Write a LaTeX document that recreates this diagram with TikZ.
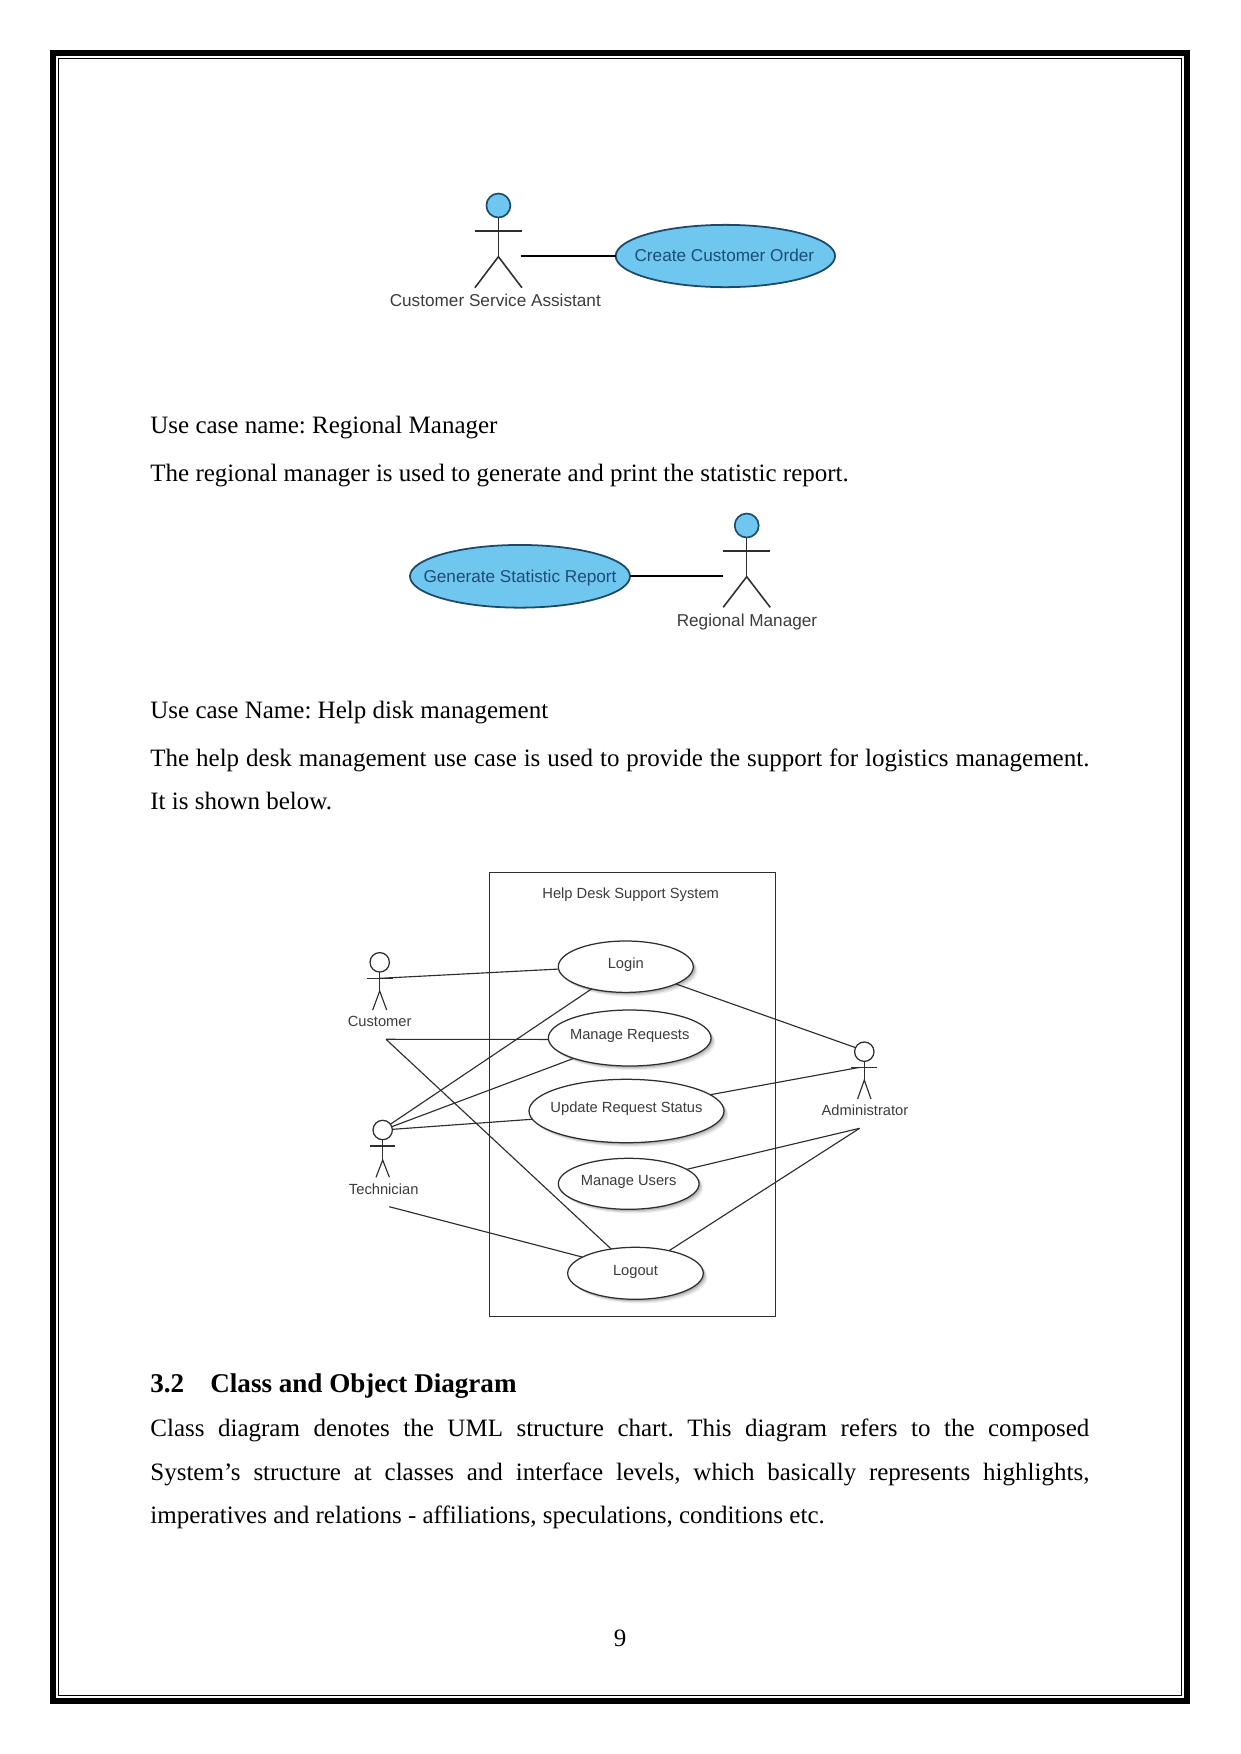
\documentclass[tikz,border=0pt]{standalone}
\usepackage{fontspec}
\setmainfont{Liberation Serif}
\newfontfamily\diagramfont{Liberation Sans}
\usetikzlibrary{shapes.geometric}
\definecolor{ucblue}{HTML}{6FC7EF}
\definecolor{ucnavy}{HTML}{1D4A68}
\definecolor{uctext}{HTML}{1C4C78}
\definecolor{labelgrey}{HTML}{3C3C3C}
\definecolor{linegrey}{HTML}{2E2E2E}

% Page coordinates are pixels at 150 dpi, y growing downward.
\newcommand\hsz[1]{\fontsize{#1}{#1}\selectfont}
\newcommand\zerowidth[1]{\makebox[0pt][c]{#1}}
\newcommand\justline[1]{\makebox[450.72pt][s]{#1}}

% name, x, head y, head radius, arm y, arm half-span, hip y, leg half-span, foot y
\newcommand\umlactor[9]{%
  \node[actorhead,minimum size=2*#4*.48pt] (#1) at (#2,#3) {};
  \draw[actorline] (#1.south) -- (#2,#7);
  \draw[actorline] ({#2-#6},#5) -- ({#2+#6},#5);
  \draw[actorline] ({#2-#8},#9) -- (#2,#7) -- ({#2+#8},#9);
}

\tikzset{
  bodytext/.style={anchor=base west,inner sep=0pt,outer sep=0pt,font=\hsz{12pt}},
  pagenum/.style={anchor=base,inner sep=0pt,font=\hsz{12pt}},
  headingtext/.style={anchor=base west,inner sep=0pt,outer sep=0pt,font=\hsz{13pt}\bfseries},
  bluecase/.style 2 args={ellipse,draw=ucnavy,fill=ucblue,line width=.85pt,inner sep=0pt,outer sep=0pt,
    minimum width=#1*.48pt,minimum height=#2*.48pt,text=uctext,
    font=\diagramfont\hsz{8.25pt},text height=6.7pt,text depth=1.2pt},
  bluelabel/.style={anchor=base,inner sep=0pt,text=labelgrey,font=\diagramfont\hsz{8.25pt}},
  blueline/.style={draw=black,line width=.8pt},
  softshadow/.style={
    preaction={draw=none,fill=black,opacity=.07,transform canvas={shift={(2.0pt,-2.0pt)}}},
    preaction={draw=none,fill=black,opacity=.10,transform canvas={shift={(1.4pt,-1.4pt)}}},
    preaction={draw=none,fill=black,opacity=.14,transform canvas={shift={(.8pt,-.8pt)}}}},
  whitecase/.style 2 args={ellipse,draw=linegrey,fill=white,line width=.6pt,inner sep=0pt,outer sep=0pt,
    minimum width=#1*.48pt,minimum height=#2*.48pt,softshadow,text=labelgrey,
    font=\diagramfont\hsz{7.06pt},text height=5.3pt,text depth=3.4pt},
  whitelabel/.style={anchor=base,inner sep=0pt,text=labelgrey,font=\diagramfont\hsz{7.06pt}},
  whiteline/.style={draw=linegrey,line width=.55pt},
  systembox/.style={draw=linegrey,line width=.65pt,inner sep=0pt,outer sep=0pt,
    minimum width=286.4*.48pt,minimum height=444.4*.48pt},
  blueactor/.style={
    actorhead/.style={circle,draw=ucnavy,fill=ucblue,line width=.8pt,inner sep=0pt,outer sep=0pt},
    actorline/.style={draw=linegrey,line width=.75pt}},
  whiteactor/.style={
    actorhead/.style={circle,draw=linegrey,fill=white,line width=.6pt,inner sep=0pt,outer sep=0pt},
    actorline/.style={draw=linegrey,line width=.55pt}},
  outerframe/.style={draw=black,line width=2.88pt},
  innerframe/.style={draw=black,line width=.55pt}
}

\begin{document}
\frenchspacing
\begin{tikzpicture}[x=.48pt,y=-.48pt]
\useasboundingbox (0,0) rectangle (1241,1754);

% Page frame
\draw[outerframe] (53,53) rectangle (1187,1700.7);
\draw[innerframe] (58.5,58.5) rectangle (1181.5,1695.5);

% Create Customer Order
\begin{scope}[blueactor]
  \umlactor{assistant}{498.4}{205.5}{12}{231}{23.5}{256.7}{23.5}{287.7}
  \node[bluelabel] (assistantlabel) at (495.3,306) {Customer Service Assistant};
  \node[bluecase={219.4}{62.3}] (createorder) at (725.4,256) {\hspace{-1pt}\zerowidth{Create Customer Order}};
  \coordinate (assistanthand) at (520.7,256);
  \draw[blueline] (assistanthand) -- (createorder.west);
\end{scope}

% Regional manager section
\node[bodytext] (regionhead) at (150.4,433.3) {Use case name: Regional Manager};
\node[bodytext] (regionbody) at (150.4,481) {The regional manager is used to generate and print the statistic report.};

\begin{scope}[blueactor]
  \umlactor{manager}{746.7}{525.5}{12}{551}{23.5}{576.7}{23.5}{607.3}
  \node[bluelabel] (managerlabel) at (747,626) {Regional Manager};
  \node[bluecase={220}{62.7}] (genreport) at (520,576.3) {\zerowidth{Generate Statistic Report}};
  \coordinate (managerhand) at (722.7,576.3);
  \draw[blueline] (genreport.east) -- (managerhand);
\end{scope}

% Help desk section
\node[bodytext] (helphead) at (150.4,718.3) {Use case Name: Help disk management};
\node[bodytext] (helpbody) at (150.4,766) {\justline{The help desk management use case is used to provide the support for logistics management.}};
\node[bodytext] (helpbodytwo) at (150.4,809) {It is shown below.};

% Help desk use case diagram
\node[systembox] (system) at (632.5,1094.5) {};
\node[whitelabel] (systemtitle) at (630.7,898) {Help Desk Support System};

\node[whitecase={135}{51.4}] (login) at (625.8,966.7) {\zerowidth{Login}};
\node[whitecase={162.7}{56}] (managereq) at (629.7,1038) {\zerowidth{Manage Requests}};
\node[whitecase={195}{63.4}] (updatereq) at (626.5,1111) {\zerowidth{Update Request Status}};
\node[whitecase={140.7}{51}] (manageusers) at (628.7,1183.8) {\zerowidth{Manage Users}};
\node[whitecase={135.6}{52}] (logout) at (635.5,1273.3) {\zerowidth{Logout}};

\begin{scope}[whiteactor]
  \umlactor{customer}{379.7}{962.3}{9.7}{978.3}{13.2}{991}{7}{1010}
  \umlactor{technician}{382.7}{1130}{9.7}{1146}{12.7}{1160}{6.7}{1177.3}
  \umlactor{admin}{864.3}{1051.7}{9.7}{1067.3}{13}{1080}{6.7}{1099}
\end{scope}
\node[whitelabel] (customerlabel) at (379.7,1026.7) {Customer};
\node[whitelabel] (technicianlabel) at (383.7,1194.3) {Technician};
\node[whitelabel] (adminlabel) at (865,1115.7) {Administrator};

\coordinate (customerhand) at (380,978.3);
\coordinate (customertail) at (386,1039.3);
\coordinate (techniciantail) at (389.3,1206.7);
\coordinate (adminhand) at (860,1067.3);
\coordinate (admintail) at (859.6,1128.3);

\draw[whiteline] (customerhand) -- (login.182);
\draw[whiteline] (customertail) -- (managereq.181);
\draw[whiteline] (customertail) -- (logout.135.7);
\draw[whiteline] (technician.37) -- (login.213.5);
\draw[whiteline] (technician.20) -- (managereq.200);
\draw[whiteline] (technician.4) -- (updatereq.185);
\draw[whiteline] (techniciantail) -- (logout.163.7);
\draw[whiteline] (admin.155) -- (login.341);
\draw[whiteline] (adminhand) -- (updatereq.11.7);
\draw[whiteline] (admintail) -- (manageusers.14.6);
\draw[whiteline] (admintail) -- (logout.34.6);

% Class diagram section
\node[headingtext] (classhead) at (150.4,1392.3) {\hbox to 28.8pt{3.2\hfil}Class and Object Diagram};
\node[bodytext] (classone) at (150.4,1436.6) {\justline{Class diagram denotes the UML structure chart. This diagram refers to the composed}};
\node[bodytext] (classtwo) at (150.4,1480) {\justline{System’s structure at classes and interface levels, which basically represents highlights,}};
\node[bodytext] (classthree) at (150.4,1523.3) {imperatives and relations - affiliations, speculations, conditions etc.};

\node[pagenum] (pageno) at (620,1646) {9};
\end{tikzpicture}
\end{document}
